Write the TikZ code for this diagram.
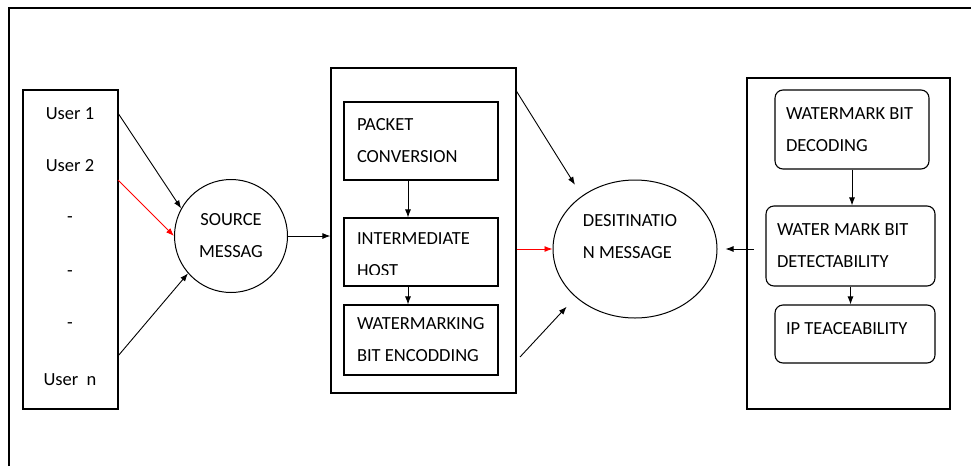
\documentclass[tikz,border=0pt]{standalone}
\usepackage{fontspec}
\setmainfont{Carlito}
\usepackage{tikz}
\usetikzlibrary{shapes.geometric,arrows.meta}

\begin{document}
\begin{tikzpicture}[x=1pt,y=-1pt,
  lbl/.style={font=\fontsize{18.5}{32}\selectfont},
  outerbox/.style={draw, line width=1.2pt, inner sep=0pt},
  stepbox/.style={lbl, draw, line width=1.1pt, inner xsep=13pt, inner ysep=0pt, align=flush left},
  roundbox/.style={stepbox, rounded corners=8pt, inner xsep=11pt},
  flow/.style={-{Latex[length=8pt,width=6pt]}, line width=0.9pt}]
\useasboundingbox (0,0) rectangle (971,466);

% frame
\draw[line width=1.3pt] (9,466) -- (9,8) -- (971,8);

% Users
\node[outerbox, minimum width=95, minimum height=319] (users) at (70.5,249.5) {};
\node[lbl] (u1) at (70,114) {User 1};
\node[lbl] (u2) at (70,166) {User 2};
\node[lbl] (d1) at (70,220) {-};
\node[lbl] (d2) at (70,274) {-};
\node[lbl] (d3) at (70,326) {-};
\node[lbl] (un) at (70,380) {User~~n};

\node[lbl, draw, line width=1pt, circle, minimum size=113, inner sep=0pt, align=center] (src) at (231,236) {SOURCE\\MESSAG};

% Packet processing
\node[outerbox, minimum width=185, minimum height=325] (mid) at (423.5,230.5) {};
\node[stepbox, text width=128, minimum height=78] (pkt) at (421,141) {PACKET\\CONVERSION};
\node[stepbox, text width=128, minimum height=68] (inter) at (421,252) {};
\begin{scope}
\clip (inter.north west) rectangle ([yshift=12.5pt]inter.south east);
\node[lbl, text width=128, align=flush left, yshift=-3pt] (intertext) at (inter) {INTERMEDIATE\\HOST};
\end{scope}
\node[stepbox, text width=128, minimum height=70] (wm) at (421,340) {WATERMARKING\\BIT ENCODDING};

% Destination
\node[draw, line width=1pt, ellipse, minimum width=164, minimum height=138] (dst) at (635,249) {};
\node[lbl, align=left] (dsttext) at (630,237) {DESITINATIO\\N MESSAGE};

% Tracing
\node[outerbox, minimum width=203, minimum height=331] (rbox) at (848.5,243.5) {};
\node[roundbox, text width=132, minimum height=79] (dec) at (852,129.5) {WATERMARK BIT\\DECODING};
\node[roundbox, text width=147, minimum height=80] (det) at (850.5,246) {WATER MARK BIT\\DETECTABILITY};
\node[roundbox, text width=138, minimum height=58, text depth=12] (ip) at (855,334) {IP TEACEABILITY};

% arrows
\coordinate (u2out) at (118,180);
\coordinate (unout) at (118,356);
\coordinate (wmout) at (520,357);
\coordinate (rbin) at (754,249);

\draw[flow] (u1.east -| users.east) -- (src.151);
\draw[flow, red] (u2out) -- (src.west);
\draw[flow] (unout) -- (src.221);
\draw[flow] (src.east) -- (src.east -| mid.west);
\draw[flow] ([xshift=-13pt]pkt.south) -- ([xshift=-13pt]inter.north);
\draw[flow] ([xshift=-13pt]inter.south) -- ([xshift=-13pt]wm.north);
\draw[flow, red] (dst.west -| mid.east) -- (dst.west);
\draw[flow, shorten >=13pt] ([yshift=-24pt]mid.north east) -- (dst.135);
\draw[flow, shorten >=13pt] (wmout) -- (dst.219);
\draw[flow] (rbin) -- ([xshift=8pt]dst.east);
\draw[flow] (dec.south) -- (dec.south |- det.north);
\draw[flow] (det.south) -- (det.south |- ip.north);
\end{tikzpicture}
\end{document}
